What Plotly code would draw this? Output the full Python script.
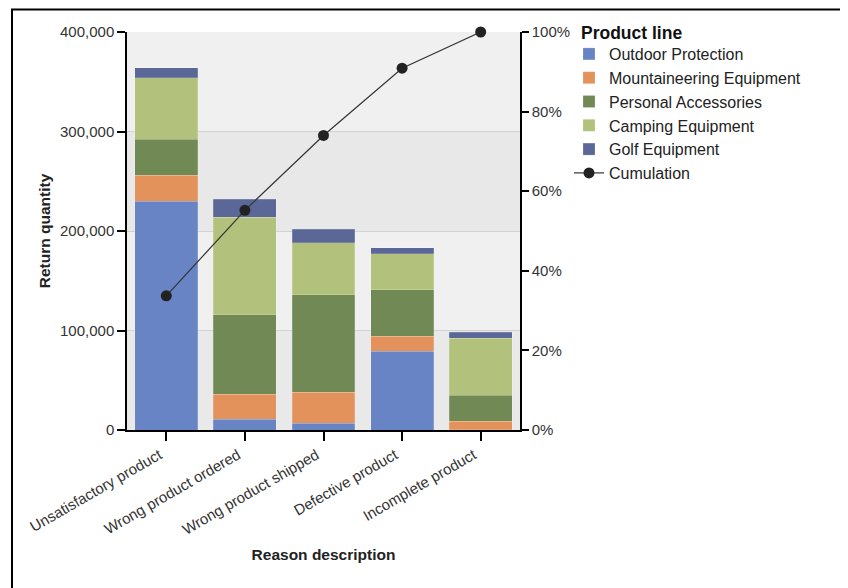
import plotly.graph_objects as go

# Return quantity by reason and product line
reasons = ["Unsatisfactory product", "Wrong product ordered", "Wrong product shipped",
           "Defective product", "Incomplete product"]
outdoor_protection = [230000, 11000, 7000, 79000, 500]
mountaineering_equipment = [26000, 25000, 31000, 15000, 8500]
personal_accessories = [36000, 80000, 98000, 47000, 26000]
camping_equipment = [62000, 98000, 52000, 36000, 57000]
golf_equipment = [10000, 18000, 14000, 6000, 6000]
cumulation_pct = [33.7, 55.2, 74.0, 90.9, 100.0]

# page body adds an 8px margin, so work in figure coords shifted by 8
OFF = 8
W, H = 840, 580
L, R, T, B = 127 - OFF, 520 - OFF, 32 - OFF, 430 - OFF  # plot area in pixels

series = [
    ("Outdoor Protection", outdoor_protection, "#6884c4"),
    ("Mountaineering Equipment", mountaineering_equipment, "#e2925a"),
    ("Personal Accessories", personal_accessories, "#718a55"),
    ("Camping Equipment", camping_equipment, "#b2c17b"),
    ("Golf Equipment", golf_equipment, "#5b6797"),
]

fig = go.Figure()
for name, vals, col in series:
    fig.add_trace(go.Bar(
        x=reasons, y=vals, name=name,
        marker=dict(color=col, line=dict(color="rgba(255,255,255,0.3)", width=0.6)),
        width=0.8,
    ))

fig.add_trace(go.Scatter(
    x=reasons, y=cumulation_pct, name="Cumulation", yaxis="y2",
    mode="lines+markers", cliponaxis=False,
    line=dict(color="#333333", width=1.2),
    marker=dict(color="#222222", size=11),
))

def px_x(p):
    return (p - OFF - L) / (R - L)

def px_y(p):
    return (B - (p - OFF)) / (B - T)

# alternating plot-area bands
bands = []
for i, c in enumerate(["#e9e9ea", "#f0f0f0", "#e8e8e8", "#f0f0f0"]):
    bands.append(dict(type="rect", xref="paper", yref="y", x0=0, x1=1,
                      y0=i * 100000, y1=(i + 1) * 100000,
                      fillcolor=c, line=dict(width=0), layer="below"))

fig.update_layout(
    width=W, height=H,
    margin=dict(l=L, r=W - R, t=T, b=H - B),
    paper_bgcolor="white",
    plot_bgcolor="#ececec",
    barmode="stack",
    bargap=0.2,
    font=dict(family="Arial, Liberation Sans, sans-serif", size=15, color="#333333"),
    xaxis=dict(
        showline=True, linecolor="black", linewidth=1.5,
        ticks="outside", ticklen=9, tickcolor="black", tickwidth=1.5,
        tickangle=-30, tickfont=dict(size=15, color="#333333"),
        ticklabelshift=-7,
        title=dict(text="<b>Reason description</b>", font=dict(size=15.5, color="#222222"), standoff=12),
    ),
    yaxis=dict(
        range=[0, 400000], dtick=100000, tickformat=",",
        showline=True, linecolor="black", linewidth=1.5,
        ticks="outside", ticklen=8, tickcolor="black", tickwidth=1.5,
        gridcolor="#d2d2d2", gridwidth=1, zeroline=False, layer="below traces",
        tickfont=dict(size=15, color="#333333"),
        title=dict(text="<b>Return quantity</b>", font=dict(size=15.5, color="#222222"), standoff=6),
    ),
    yaxis2=dict(
        overlaying="y", side="right", range=[0, 100], dtick=20, ticksuffix="%",
        showline=True, linecolor="black", linewidth=1.5,
        ticks="outside", ticklen=7, tickcolor="black", tickwidth=1.5,
        showgrid=False, zeroline=False,
        tickfont=dict(size=15, color="#333333"),
    ),
    legend=dict(
        traceorder="normal",
        x=px_x(569), y=px_y(37), xanchor="left", yanchor="top",
        font=dict(size=16, color="#222222"),
        bgcolor="rgba(0,0,0,0)",
        itemwidth=30,
        tracegroupgap=0,
    ),
    annotations=[dict(
        text="<b>Product line</b>", xref="paper", yref="paper",
        x=px_x(579), y=px_y(33), xanchor="left", yanchor="middle",
        showarrow=False, font=dict(size=17.5, color="#111111"),
    )],
    shapes=bands + [dict(
        type="rect", xref="paper", yref="paper",
        x0=px_x(12), x1=px_x(900), y0=px_y(640), y1=px_y(9.5),
        line=dict(color="black", width=2), fillcolor="rgba(0,0,0,0)", layer="above",
    )],
)

fig.write_html("out.html")
